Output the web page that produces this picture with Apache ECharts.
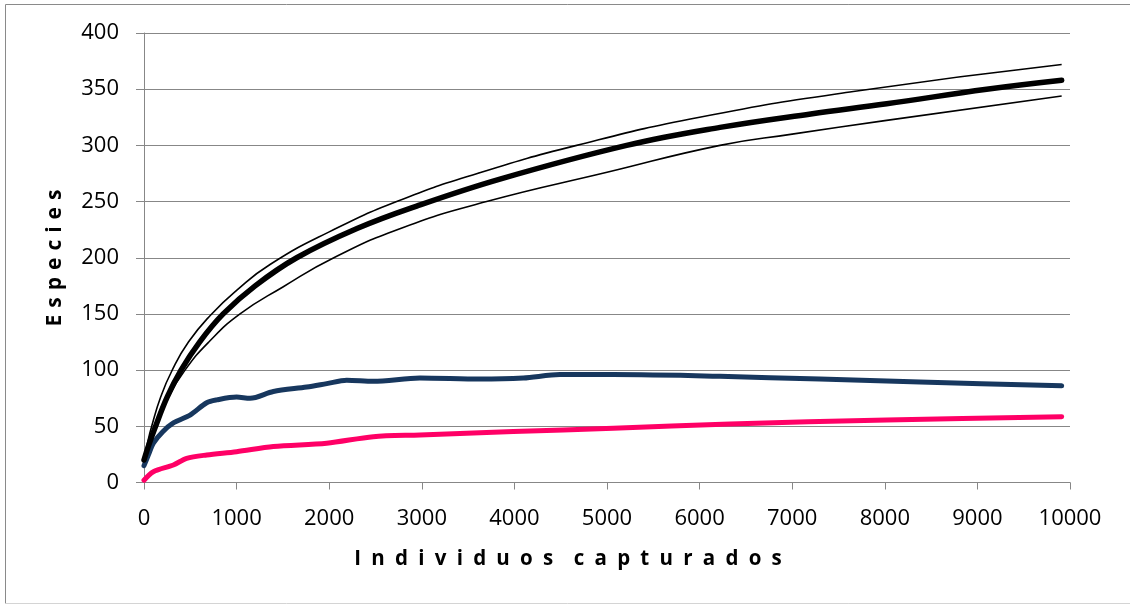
<!DOCTYPE html>
<html>
<head>
<meta charset="utf-8">
<script src="https://cdn.jsdelivr.net/npm/echarts@6/dist/echarts.min.js"></script>
<style>html,body{margin:0;padding:0;background:#fff}#c{width:1130px;height:605px}</style>
</head>
<body>
<div id="c"></div>
<script>
// Data
var yTicks = [0, 50, 100, 150, 200, 250, 300, 350, 400];
var xTicks = [0, 1000, 2000, 3000, 4000, 5000, 6000, 7000, 8000, 9000, 10000];

var meanX = [0, 50, 120, 250, 400, 600, 855, 1200, 1649, 2300, 2945, 3844, 5212, 6220, 7200, 8020, 9100, 9910];
var meanY = [20, 33, 49, 76, 100, 125, 150, 175, 200, 226, 246, 270, 300, 316, 328, 337, 350, 358];

var upperX = [0, 40, 83, 180, 299, 480, 731, 1000, 1361, 2000, 2729, 3600, 4672, 6000, 7660, 9910];
var upperY = [20, 36, 50, 76, 99, 125, 150, 171, 194, 223, 250, 275, 300, 325, 348, 372];

var lowerX = [0, 50, 119, 250, 443, 700, 1037, 1500, 2050, 2800, 3700, 5000, 6220, 7000, 8000, 9910];
var lowerY = [18, 33, 50, 74, 100, 125, 150, 174, 200, 227, 250, 276, 300, 310, 322, 344];

var blueX = [0, 50, 101, 200, 317, 497, 677, 785, 1000, 1145, 1397, 1757, 1973, 2189, 2476, 2980, 3628, 4096, 4493, 5068, 6220, 7300, 8380, 9910];
var blueY = [15, 25, 35, 45, 53, 60, 71, 73.5, 76, 75, 81, 85, 88, 91, 90, 93, 92, 93, 96, 96, 94.5, 92, 89.5, 86];

var pinkX = [0, 101, 317, 461, 677, 1000, 1397, 1973, 2476, 2980, 3988, 5068, 6328, 8020, 9910];
var pinkY = [2, 9.6, 15.6, 21.5, 24.5, 27.4, 32, 35, 40.8, 42.3, 45.3, 48.3, 52, 55.7, 58.6];

var yTitle = "Especies";
var xTitle = "Individuos capturados";

function pairs(xs, ys) { return xs.map(function (x, i) { return [x, ys[i]]; }); }
function spaced(s, gap, wordGap) {
  return s.split(" ").map(function (w) { return w.split("").join(gap); }).join(wordGap);
}

var gray = "#878787";
var font = "'Open Sans', 'Liberation Sans', sans-serif";
var chart = echarts.init(document.getElementById('c'), null, { renderer: 'canvas' });
chart.setOption({
  backgroundColor: '#fff',
  animation: false,
  grid: { left: 144, right: 60, top: 33, bottom: 122.5 },
  xAxis: {
    type: 'value', min: 0, max: 10000, interval: 1000,
    axisLine: { show: true, lineStyle: { color: gray, width: 1 } },
    axisTick: { show: true, length: 7, lineStyle: { color: gray } },
    splitLine: { show: false },
    axisLabel: { margin: 25, color: '#000', fontSize: 22, fontFamily: font,
      formatter: function (v) { return xTicks.indexOf(v) >= 0 ? String(v) : ''; } }
  },
  yAxis: {
    type: 'value', min: 0, max: 400, interval: 50,
    axisLine: { show: true, lineStyle: { color: gray, width: 1 } },
    axisTick: { show: true, length: 8, lineStyle: { color: gray } },
    splitLine: { show: true, lineStyle: { color: gray, width: 1 } },
    axisLabel: { margin: 25, color: '#000', fontSize: 22, fontFamily: font,
      formatter: function (v) { return yTicks.indexOf(v) >= 0 ? String(v) : ''; } }
  },
  graphic: [
    { type: 'line', shape: { x1: 5.5, y1: 4.5, x2: 1130, y2: 4.5 }, style: { stroke: '#8a8a8a', lineWidth: 1 } },
    { type: 'line', shape: { x1: 5.5, y1: 4.5, x2: 5.5, y2: 603.5 }, style: { stroke: '#8a8a8a', lineWidth: 1 } },
    { type: 'line', shape: { x1: 5.5, y1: 603.5, x2: 1130, y2: 603.5 }, style: { stroke: '#d4d4d4', lineWidth: 1 } },
    { type: 'text', x: 568, y: 559, style: { text: spaced(xTitle, '\u2002', '\u2002\u2002'), fill: '#000', font: 'bold 20.5px ' + font, textAlign: 'center', textVerticalAlign: 'middle' } },
    { type: 'text', x: 55, y: 258, rotation: Math.PI / 2, style: { text: spaced(yTitle, '\u2004', '\u2004\u2004'), fill: '#000', font: 'bold 21px ' + font, textAlign: 'center', textVerticalAlign: 'middle' } }
  ],
  series: [
    { type: 'line', data: pairs(upperX, upperY), showSymbol: false, smooth: 0.5, lineStyle: { color: '#000', width: 1.6 } },
    { type: 'line', data: pairs(lowerX, lowerY), showSymbol: false, smooth: 0.5, lineStyle: { color: '#000', width: 1.6 } },
    { type: 'line', data: pairs(pinkX, pinkY), showSymbol: false, smooth: 0.3, lineStyle: { color: '#FF0066', width: 5, cap: 'round', join: 'round' } },
    { type: 'line', data: pairs(blueX, blueY), showSymbol: false, smooth: 0.3, lineStyle: { color: '#17375E', width: 5, cap: 'round', join: 'round' } },
    { type: 'line', data: pairs(meanX, meanY), showSymbol: false, smooth: 0.4, lineStyle: { color: '#000', width: 5.5, cap: 'round', join: 'round' } }
  ]
});
</script>
</body>
</html>
